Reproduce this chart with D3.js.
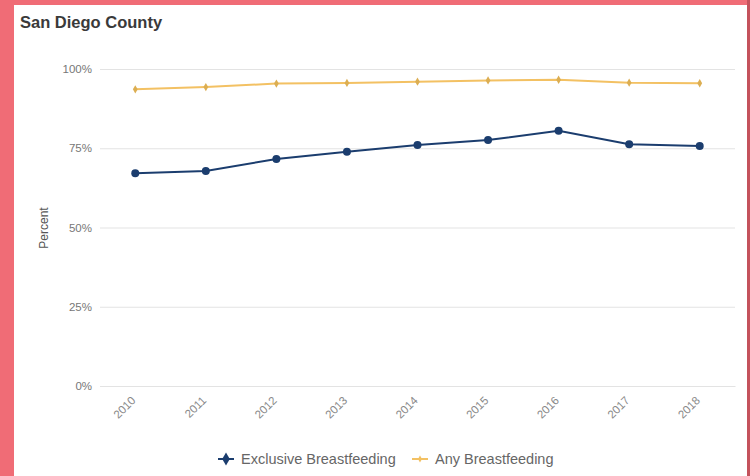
<!DOCTYPE html>
<html>
<head>
<meta charset="UTF-8">
<title>San Diego County</title>
<script src="https://cdn.jsdelivr.net/npm/d3@7"></script>
<style>
  html, body { margin: 0; padding: 0; }
  body { width: 750px; height: 476px; background: #f06c76; overflow: hidden; position: relative; }
  #panel { position: absolute; left: 14px; top: 5px; width: 733px; height: 471px; background: #fff; }
  #edge { position: absolute; left: 747px; top: 0; width: 3px; height: 476px; background: #c4525c; }
  svg { position: absolute; left: 0; top: 0; font-family: "Liberation Sans", Arial, sans-serif; }
</style>
</head>
<body>
<div id="panel"></div>
<div id="edge"></div>
<script>
var years = ["2010", "2011", "2012", "2013", "2014", "2015", "2016", "2017", "2018"];
var exclusive = [67.1, 67.8, 71.6, 73.9, 76.0, 77.6, 80.5, 76.3, 75.7];
var any = [93.6, 94.3, 95.4, 95.6, 96.0, 96.4, 96.6, 95.7, 95.5];
var yTicks = [0, 25, 50, 75, 100];

var blue = "#1b3d6e", gold = "#f3c163";

var svg = d3.select("body").append("svg")
    .attr("width", 750)
    .attr("height", 476);

var x = d3.scaleBand().domain(years).range([100, 735]);
var y = d3.scaleLinear().domain([0, 100]).range([386, 69]);

svg.append("text")
    .attr("x", 20).attr("y", 28)
    .attr("font-size", 16.5).attr("font-weight", "bold")
    .attr("fill", "#3a3a3a")
    .text("San Diego County");

// grid + y labels
var yAxis = svg.append("g")
    .attr("transform", "translate(100,0)")
    .call(d3.axisLeft(y).tickValues(yTicks).tickSize(-635).tickFormat(function(d){ return d + "%"; }));
yAxis.select(".domain").remove();
yAxis.selectAll(".tick line").attr("stroke", "#e3e3e3");
yAxis.selectAll(".tick text")
    .attr("x", -8).attr("fill", "#777").attr("font-size", 11.5)
    .attr("font-family", "Liberation Sans, Arial, sans-serif");

svg.append("text")
    .attr("transform", "translate(48,228) rotate(-90)")
    .attr("text-anchor", "middle")
    .attr("font-size", 12).attr("fill", "#555")
    .text("Percent");

// x axis
var xAxis = svg.append("g")
    .attr("transform", "translate(0,386)")
    .call(d3.axisBottom(x).tickSize(0));
xAxis.select(".domain").attr("stroke", "#e3e3e3");
xAxis.selectAll(".tick text")
    .attr("fill", "#888").attr("font-size", 11.5)
    .attr("font-family", "Liberation Sans, Arial, sans-serif")
    .attr("text-anchor", "end")
    .attr("dy", 0)
    .attr("transform", "translate(-1,13) rotate(-45)");

var line = d3.line()
    .x(function(d, i){ return x(years[i]) + x.bandwidth() / 2; })
    .y(function(d){ return y(d); });

svg.append("path").datum(any)
    .attr("d", line).attr("fill", "none")
    .attr("stroke", gold).attr("stroke-width", 2);
svg.selectAll(".anyPt").data(any).enter().append("path")
    .attr("class", "anyPt")
    .attr("transform", function(d, i){ return "translate(" + (x(years[i]) + x.bandwidth() / 2) + "," + y(d) + ")"; })
    .attr("d", d3.symbol().type(d3.symbolDiamond).size(20))
    .attr("fill", "#dcae52");

svg.append("path").datum(exclusive)
    .attr("d", line).attr("fill", "none")
    .attr("stroke", blue).attr("stroke-width", 2);
svg.selectAll(".exPt").data(exclusive).enter().append("circle")
    .attr("class", "exPt")
    .attr("cx", function(d, i){ return x(years[i]) + x.bandwidth() / 2; })
    .attr("cy", function(d){ return y(d); })
    .attr("r", 4)
    .attr("fill", blue);

// legend
var legend = [
  { name: "Exclusive Breastfeeding", color: blue, x: 218, size: 50 },
  { name: "Any Breastfeeding", color: gold, x: 412, size: 14 }
];
var lg = svg.selectAll(".lg").data(legend).enter().append("g")
    .attr("transform", function(d){ return "translate(" + d.x + ",459)"; });
lg.append("line").attr("x1", 0).attr("x2", 16)
    .attr("stroke", function(d){ return d.color; }).attr("stroke-width", 2);
lg.append("path").attr("transform", "translate(8,0)")
    .attr("d", function(d){ return d3.symbol().type(d3.symbolDiamond).size(d.size)(); })
    .attr("fill", function(d){ return d.color; });
lg.append("text").attr("x", 23).attr("y", 5)
    .attr("font-size", 14.5).attr("fill", "#666")
    .text(function(d){ return d.name; });
</script>
</body>
</html>
